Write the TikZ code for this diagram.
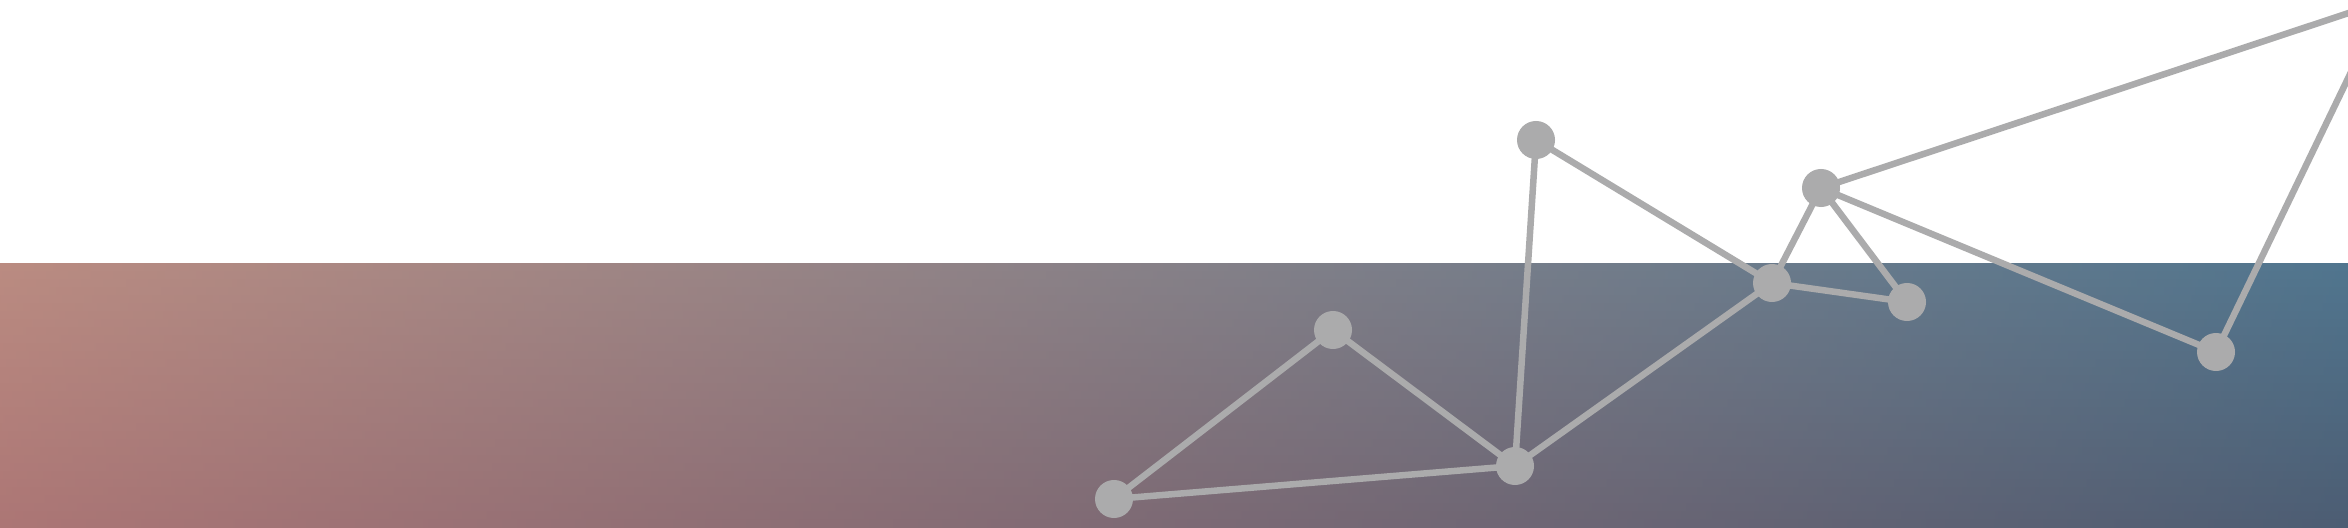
\documentclass[tikz,border=0pt]{standalone}
\usetikzlibrary{calc}
\pgfdeclarelayer{bandlayer}
\pgfdeclarelayer{edgelayer}
\pgfsetlayers{bandlayer,edgelayer,main}
\definecolor{LT}{RGB}{186,139,129}
\definecolor{MT}{RGB}{124,126,138}
\definecolor{RT}{RGB}{80,117,142}
\definecolor{LB}{RGB}{172,118,117}
\definecolor{MB}{RGB}{116,115,128}
\definecolor{RB}{RGB}{76,93,115}
\definecolor{netgray}{RGB}{171,171,172}
\tikzset{
  netnode/.style={circle,fill=netgray,draw=none,minimum size=0.38cm,inner sep=0pt},
  netedge/.style={draw=netgray,line width=0.065cm,line cap=butt}
}
\begin{document}
\begin{tikzpicture}[x=0.01cm,y=-0.01cm]
\useasboundingbox (0,0) rectangle (2348,528);
\clip (0,0) rectangle (2348,528);
\begin{pgfonlayer}{bandlayer}
\fill[white] (0,0) rectangle (2348,528);
\foreach \i in {0,...,32}{
  \pgfmathsetmacro{\p}{\i/32*100}
  \pgfmathsetmacro{\ya}{264+\i*8}
  \pgfmathsetmacro{\yb}{264+\i*8+9}
  \colorlet{lcol}{LB!\p!LT}
  \colorlet{mcol}{MB!\p!MT}
  \colorlet{rcol}{RB!\p!RT}
  \shade[left color=lcol,middle color=mcol,right color=rcol,draw=none] (0,\ya) rectangle (2348,\yb);
}
\end{pgfonlayer}
\node[netnode] (A) at (1536,140) {};
\node[netnode] (B) at (1821,188) {};
\node[netnode] (C) at (1772,283) {};
\node[netnode] (D) at (1907,302) {};
\node[netnode] (E) at (2216,352) {};
\node[netnode] (F) at (1333,330) {};
\node[netnode] (G) at (1515,466) {};
\node[netnode] (H) at (1114,499) {};
\coordinate (P1) at (2400,-4);
\coordinate (P2) at (2380,12);
\begin{pgfonlayer}{edgelayer}
\draw[netedge] (A.center) -- (C.center);
\draw[netedge] (A.center) -- (G.center);
\draw[netedge] (B.center) -- (C.center);
\draw[netedge] (B.center) -- (D.center);
\draw[netedge] (B.center) -- (E.center);
\draw[netedge] (B.center) -- (P1);
\draw[netedge] (C.center) -- (D.center);
\draw[netedge] (C.center) -- (G.center);
\draw[netedge] (F.center) -- (G.center);
\draw[netedge] (F.center) -- (H.center);
\draw[netedge] (H.center) -- (G.center);
\draw[netedge] (E.center) -- (P2);
\end{pgfonlayer}
\end{tikzpicture}
\end{document}
